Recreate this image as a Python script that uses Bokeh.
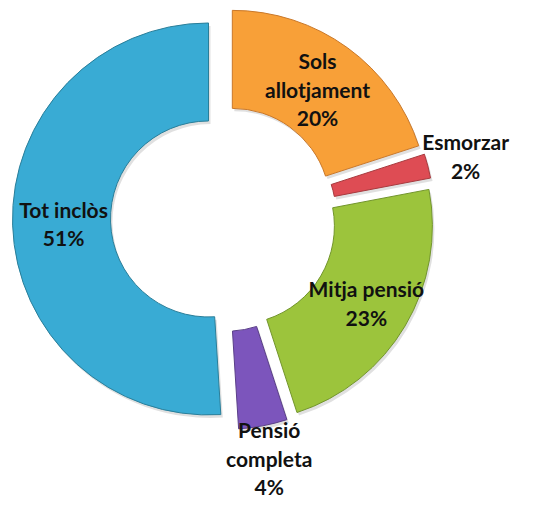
import numpy as np
from bokeh.plotting import figure
from bokeh.models import Range1d, ColumnDataSource
from bokeh.core.properties import value
from bokeh.embed import file_html
from bokeh.resources import INLINE

# data
categories = ["Sols\nallotjament", "Esmorzar", "Mitja pensió", "Pensió\ncompleta", "Tot inclòs"]
percent = [20, 2, 23, 4, 51]
colors = ["#F8A038", "#DE4C54", "#9CC43C", "#7C55BC", "#39ABD4"]
edge_colors = ["#C9782A", "#A83A3E", "#72952C", "#5A3F88", "#2A7E99"]

# style / layout
R_OUT = 196
R_IN = 98
EXPLODE = 15
label_radius = [160, 250, 166, 244, 160]

vals = np.array(percent, dtype=float)
frac = vals / vals.sum()
ends = np.cumsum(frac) * 2 * np.pi          # clockwise from 12 o'clock
starts = ends - frac * 2 * np.pi
mids = (starts + ends) / 2

cx = EXPLODE * np.sin(mids)
cy = EXPLODE * np.cos(mids)

src = ColumnDataSource(dict(
    x=cx, y=cy,
    start=np.pi / 2 - starts,
    end=np.pi / 2 - ends,
    color=colors, edge=edge_colors,
))

lab = ColumnDataSource(dict(
    x=np.array(label_radius) * np.sin(mids),
    y=np.array(label_radius) * np.cos(mids),
    text=[f"{c}\n{p}%" for c, p in zip(categories, percent)],
))

p = figure(width=517, height=503, output_backend="svg", toolbar_location=None,
           x_range=Range1d(-223, 294), y_range=Range1d(-285, 218),
           min_border=0)
p.axis.visible = False
p.grid.visible = False
p.outline_line_color = None
p.background_fill_color = "white"

# soft shadow
shadow = ColumnDataSource(dict(
    x=cx + 2, y=cy - 3,
    start=np.pi / 2 - starts, end=np.pi / 2 - ends,
))
p.annular_wedge(x="x", y="y", inner_radius=R_IN, outer_radius=R_OUT,
                start_angle="start", end_angle="end", direction="clock",
                source=shadow, fill_color="#000000", fill_alpha=0.12, line_color=None)

p.annular_wedge(x="x", y="y", inner_radius=R_IN, outer_radius=R_OUT,
                start_angle="start", end_angle="end", direction="clock",
                source=src, fill_color="color", line_color="edge", line_width=1)

p.text(x="x", y="y", text="text", source=lab, text_align="center",
       text_baseline="middle", text_font=value("Lato"), text_font_style="bold",
       text_font_size="21px", text_line_height=1.15, text_color="#111111")

open("out.html", "w").write(file_html(p, INLINE))
